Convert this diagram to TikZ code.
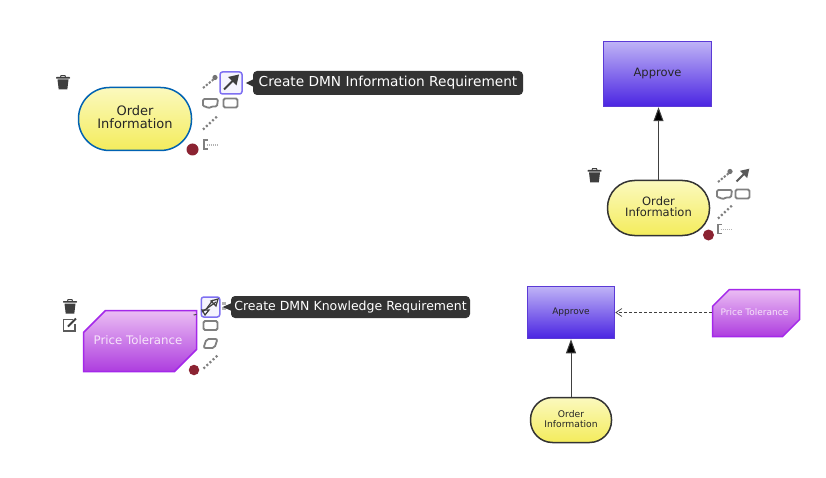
\documentclass[tikz,border=0pt]{standalone}
\usepackage{fontspec}
\setmainfont{DejaVu Sans}
\usetikzlibrary{shapes.misc,arrows.meta,calc}
\definecolor{icongray}{HTML}{808080}
\definecolor{darkicon}{HTML}{3E3E3E}
\definecolor{selblue}{HTML}{7E70F2}
\definecolor{reddot}{HTML}{8B2332}
\definecolor{tipdark}{HTML}{333333}
\definecolor{yellowtop}{HTML}{FBF9BE}
\definecolor{yellowbot}{HTML}{F4EC5C}
\definecolor{violettop}{HTML}{BFB3F6}
\definecolor{violetbot}{HTML}{4A24E2}
\definecolor{violetline}{HTML}{5B3AD6}
\definecolor{pinktop}{HTML}{EBBDF3}
\definecolor{pinkbot}{HTML}{AE3DDF}
\definecolor{pinkline}{HTML}{A428EA}
\newcommand\rz[2][2pt]{\raisebox{#1}{#2}}
\tikzset{
  x=1pt,y=-1pt,
  datanode/.style={draw=black!80,line width=1.5pt,top color=yellowtop,bottom color=yellowbot,
    align=center,text=black!85,inner sep=0pt,font=\fontsize{#1}{#1}\selectfont},
  decnode/.style={draw=violetline,line width=1.5pt,top color=violettop,bottom color=violetbot,
    align=center,text=black!85,inner sep=0pt,font=\fontsize{#1}{#1}\selectfont},
  knownode/.style={chamfered rectangle,chamfered rectangle corners={north west,south east},
    draw=pinkline,line width=1.5pt,top color=pinktop,bottom color=pinkbot,
    align=center,text=pinktop!40!white,inner sep=0pt,font=\fontsize{#1}{#1}\selectfont},
  tiptext/.style={fill=tipdark,text=white,rounded corners=4pt,inner sep=0pt,align=center,
    font=\fontsize{#1}{#1}\selectfont},
  reddotnode/.style={circle,fill=reddot,inner sep=0pt,minimum size=#1},
  selbox/.style={draw=selblue,line width=1.5pt,rounded corners=2.5pt,fill=selblue!8,inner sep=0pt},
  reqline/.style={draw=black!75,line width=1pt,-{Triangle[length=14pt,width=10pt,fill=black]}},
  knowline/.style={draw=black!75,line width=0.7pt,dash pattern=on 3pt off 2pt,-{Straight Barb[length=6pt,width=8pt,line width=0.7pt]}},
  pics/dotcircle/.style={code={
    \draw[icongray,line width=2pt,dash pattern=on 2.2pt off 1.6pt] (-7,6)--(4,-3);
    \fill[icongray!90!black] (5,-4.5) circle (2.6);}},
  pics/arrowicon/.style={code={
    \draw[#1,line width=2pt] (-7,7)--(2,-2);
    \fill[#1] (8,-8)--(5.5,3)--(-3,-5.5)--cycle;}},
  pics/arrowicon/.default=darkicon,
  pics/dblarrow/.style={code={
    \draw[darkicon,line width=1.2pt] (-8,5)--(6,-5);
    \draw[darkicon,line width=1.2pt] (-3,1)--(3,-7);
    \draw[darkicon,line width=1.2pt] (8,-8)--(1,-6)--(6,-1)--cycle;
    \draw[darkicon,line width=1.2pt] (-8,3)--(-1,3)--(-5,8)--cycle;
    \draw[darkicon,line width=0.9pt] (-16.5,8)--(-13.5,7.5);}},
  pics/commenticon/.style={code={
    \draw[icongray,line width=1.8pt,rounded corners=1.4pt] (-7.5,-4.5)--(7.5,-4.5)--(6.5,3)--(1,3)--(-2,5)--(-4,3)--(-7.5,3)--cycle;}},
  pics/recticon/.style={code={
    \draw[icongray,line width=1.8pt,rounded corners=1.5pt] (-7,-4.5) rectangle (7,4.5);}},
  pics/paraicon/.style={code={
    \draw[icongray,line width=1.8pt,rounded corners=2pt] (-4,-4.5)--(7,-4.5)--(4,4.5)--(-7,4.5)--cycle;}},
  pics/dotsicon/.style={code={
    \draw[icongray,line width=2.2pt,dash pattern=on 2pt off 2.2pt] (-7,6.5)--(7,-6.5);}},
  pics/annoticon/.style={code={
    \draw[icongray,line width=1.1pt] (-3,-4.5)--(-6.5,-4.5)--(-6.5,4.5)--(-3,4.5);
    \draw[icongray!60,line width=1.6pt,dash pattern=on 1.5pt off 0.6pt] (-4,0.5)--(7,0.5);}},
  pics/trashicon/.style={code={
    \fill[darkicon] (-5.5,-3.5)--(5.5,-3.5)--(4.3,6.5)--(-4.3,6.5)--cycle;
    \fill[darkicon,rounded corners=0.6pt] (-7,-6)rectangle(7,-4.3);
    \draw[darkicon,line width=1pt] (-2.5,-6)--(-2,-7.3)--(2,-7.3)--(2.5,-6);
  }},
  pics/editicon/.style={code={
    \draw[darkicon!85,line width=1.6pt] (3,-5.5)--(-6,-5.5)--(-6,6)--(5.5,6)--(5.5,-1);
    \draw[darkicon,line width=2pt] (-1.5,1.5)--(6.5,-6.5);
  }},
}
\begin{document}
\begin{tikzpicture}
\useasboundingbox[fill=white] (0,0) rectangle (826,478);

% --- top-left ---
\node[datanode=13,draw=blue!45!cyan!70!black,minimum width=113pt,minimum height=63pt,rounded corners=31pt] (oi1) at (135,119) {\rz[3pt]{Order}\\\rz[3pt]{Information}};
\node[reddotnode=12pt] (rd1) at (192.5,149.5) {};
\pic at (63,83) {trashicon};
\pic at (210,82) {dotcircle};
\node[selbox,minimum width=22pt,minimum height=22pt] (sel1) at (231,83) {};
\pic at (231,82.5) {arrowicon};
\pic at (210.5,103.5) {commenticon};
\pic at (230.5,103) {recticon};
\pic at (210,123) {dotsicon};
\pic at (210.5,144.5) {annoticon};
\node[tiptext=13.7,minimum width=270pt,minimum height=24pt] (tip1) at (388,83) {Create DMN Information Requirement};
\fill[tipdark] ($(tip1.west)+(-7,0)$) -- ($(tip1.west)+(1,-4)$) -- ($(tip1.west)+(1,4)$) -- cycle;

% --- top-right ---
\node[decnode=11.5,minimum width=108pt,minimum height=65pt] (ap1) at (657.5,74) {\rz[1pt]{Approve}};
\node[datanode=11.5,minimum width=102pt,minimum height=55pt,rounded corners=27pt] (oi2) at (658.5,208) {\rz[2.5pt]{Order}\\[-0.8pt]\rz[2.5pt]{Information}};
\draw[reqline] (oi2.north) -- (oi2.north |- ap1.south);
\node[reddotnode=11pt] (rd2) at (708.5,235) {};
\pic at (594.5,176) {trashicon};
\pic at (725,176) {dotcircle};
\pic[scale=0.85] at (742.5,175.5) {arrowicon={icongray!70!black}};
\pic at (724.5,194.5) {commenticon};
\pic at (742.5,194) {recticon};
\pic at (725,212) {dotsicon};
\pic at (724.5,229) {annoticon};

% --- bottom-left ---
\node[knownode=11.8,minimum width=113pt,minimum height=61pt,chamfered rectangle xsep=15.5pt,chamfered rectangle ysep=16.5pt] (pt1) at (140,341) {\rz{\hspace{-4pt}Price Tolerance}};
\node[reddotnode=10.5pt] (rd3) at (194,370) {};
\pic at (70,307) {trashicon};
\pic at (69.5,325) {editicon};
\fill[icongray!60] (222,302) rectangle (226,305);
\fill[icongray!60] (222,307) rectangle (226,310);
\node[selbox,minimum width=18.5pt,minimum height=20pt] (sel3) at (210.5,307) {};
\pic at (210,307) {dblarrow};
\pic at (210.5,325.5) {recticon};
\pic at (210.5,343.5) {paraicon};
\pic at (210.5,362) {dotsicon};
\node[tiptext=12.5,minimum width=239pt,minimum height=22pt] (tip3) at (350.5,307) {Create DMN Knowledge Requirement};
\fill[tipdark] ($(tip3.west)+(-8,0)$) -- ($(tip3.west)+(1,-4)$) -- ($(tip3.west)+(1,4)$) -- cycle;

% --- bottom-right ---
\node[decnode=9,minimum width=87pt,minimum height=52pt] (ap2) at (571,312.5) {Approve};
\node[knownode=9,minimum width=87pt,minimum height=47pt,chamfered rectangle xsep=12pt,chamfered rectangle ysep=12.5pt] (pt2) at (756,313) {\rz{\hspace{-3pt}Price Tolerance}};
\node[datanode=9.2,minimum width=81pt,minimum height=45pt,rounded corners=22pt] (oi3) at (571,420) {\rz[2pt]{Order}\\\rz[2pt]{Information}};
\draw[reqline] (oi3.north) -- (oi3.north |- ap2.south);
\coordinate (kreqs) at (pt2.west |- ap2.east);
\draw[knowline] (kreqs) -- (ap2.east);
\end{tikzpicture}
\end{document}
